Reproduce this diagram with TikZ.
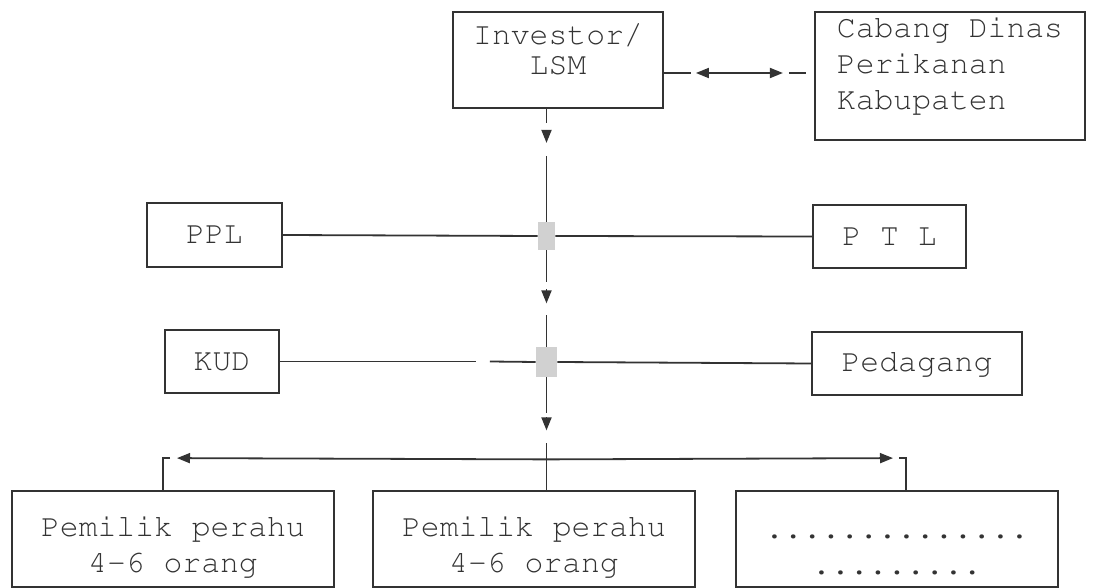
\documentclass[tikz,border=0pt]{standalone}
\usepackage[T1]{fontenc}
\usepackage{courier}
\usetikzlibrary{arrows.meta}
\usetikzlibrary{calc}
\definecolor{ink}{rgb}{0.2,0.2,0.2}
\definecolor{greyblock}{rgb}{0.82,0.82,0.82}

\begin{document}
\begin{tikzpicture}[x=0.5pt,y=-0.5pt,
  >={Triangle[length=6.5pt,width=5pt]},
  box/.style={draw=ink,line width=0.9pt,text=ink,inner sep=0pt,align=center,
    font=\ttfamily\fontsize{15.7}{18}\selectfont},
  junction/.style={fill=greyblock,draw=none,inner sep=0pt},
  link/.style={draw=ink,line width=0.9pt}]

\useasboundingbox (0,0) rectangle (1094,588);

%% top row
\node[box,minimum width=105pt,minimum height=48pt] (inv) at (558,60) {Investor/\\[-3pt]LSM\rule[-11pt]{0pt}{0pt}};
\node[box,align=left,minimum width=135pt,minimum height=64pt] (cab) at (950,76) {Cabang Dinas\\Perikanan\\Kabupaten\rule[-13pt]{0pt}{0pt}};

%% middle rows
\node[box,minimum width=67.5pt,minimum height=32pt] (ppl) at (214.5,235) {PPL};
\node[box,minimum width=76.5pt,minimum height=31.5pt] (ptl) at (889.5,236.5) {P T L};
\node[box,minimum width=57pt,minimum height=31.5pt] (kud) at (222,361.5) {KUD};
\node[box,minimum width=105pt,minimum height=31.5pt] (ped) at (917,363.5) {Pedagang};
% grey crossing blocks
\node[junction,minimum width=8.5pt,minimum height=14pt] (g1) at (546.5,236) {};
\node[junction,minimum width=10.5pt,minimum height=15pt] (g2) at (546.5,362) {};

%% bottom row
\node[box,minimum width=161pt,minimum height=48pt] (p1) at (173,539) {\rule{0pt}{18pt}Pemilik perahu\\4-6 orang};
\node[box,minimum width=161pt,minimum height=48pt] (p2) at (534,539) {\rule{0pt}{18pt}Pemilik perahu\\4-6 orang};
\node[box,minimum width=161pt,minimum height=48pt] (p3) at (897,539) {\rule{0pt}{18pt}..............\\.........};

%% investor <-> cabang dinas
\coordinate (tie) at ($(inv.east)+(0,13)$);
\draw[link] (tie) -- ++(27,0);
\draw[link,<->] ($(tie)+(32,0)$) -- ($(tie)+(119,0)$);
\draw[link] ($(tie)+(125,0)$) -- ++(17,0);

%% spine
\draw[link] (inv.south -| g1) -- ++(0,14);
\draw[link,->] ($(inv.south -| g1)+(0,21)$) -- ++(0,13);
\draw[link] ($(inv.south -| g1)+(0,47)$) -- (g1.north);
\draw[link] (g1.south) -- ++(0,32);
\draw[link,->] ($(g1.south)+(0,39)$) -- ++(0,14);
\draw[link] ($(g1.south)+(0,65)$) -- (g2.north);
\draw[link] (g2.south) -- ++(0,36);
\draw[link,->] ($(g2.south)+(0,40)$) -- ++(0,13);
\draw[link] ($(g2.south)+(0,66)$) -- (p2.north -| g2);

%% side lines
\draw[link] (ppl.east) -- (g1.west);
\draw[link] (g1.east) -- (ptl.west);
\draw[link] (kud.east) -- ($(kud.east)+(196,0)$);
\draw[link] ($(kud.east)+(210,0)$) -- (g2.west);
\draw[link] (g2.east) -- (ped.west);

%% fork to the boat owners
\coordinate (fork) at ($(g2.south)+(0,82)$);
\coordinate (lbend) at ($(p1.north)+(-10,-32)$);
\coordinate (rbend) at ($(p3.north)+(9,-32)$);
\draw[link,->] (fork) -- ($(lbend)+(14,0)$);
\draw[link] ($(lbend)+(7,0)$) -- (lbend) -- (lbend |- p1.north);
\draw[link,->] (fork) -- ($(rbend)+(-13,0)$);
\draw[link] ($(rbend)+(-7,0)$) -- (rbend) -- (rbend |- p3.north);

\end{tikzpicture}
\end{document}
